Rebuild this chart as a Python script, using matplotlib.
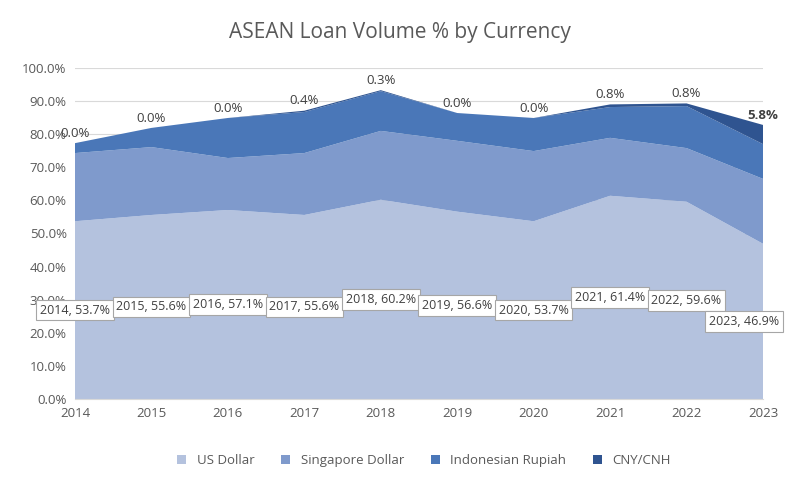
import matplotlib
matplotlib.use("Agg")
import matplotlib.pyplot as plt
from matplotlib.ticker import PercentFormatter

years = [2014, 2015, 2016, 2017, 2018, 2019, 2020, 2021, 2022, 2023]
usd = [53.7, 55.6, 57.1, 55.6, 60.2, 56.6, 53.7, 61.4, 59.6, 46.9]
sgd = [20.6, 20.5, 15.7, 18.7, 20.8, 21.4, 21.2, 17.5, 16.2, 19.6]
idr = [3.0, 5.8, 12.1, 12.4, 12.0, 8.4, 10.0, 9.3, 12.7, 10.5]
cny = [0.0, 0.0, 0.0, 0.4, 0.3, 0.0, 0.0, 0.8, 0.8, 5.8]
series_names = ["US Dollar", "Singapore Dollar", "Indonesian Rupiah", "CNY/CNH"]
colors = ["#b4c2de", "#7f9acc", "#4a77b8", "#2f5490"]

plt.rcParams["font.family"] = "Open Sans"
fig = plt.figure(figsize=(8, 4.84), dpi=100)
ax = fig.add_axes([75/800, 1-399/484, (763-75)/800, (399-68)/484])
ax.stackplot(years, usd, sgd, idr, cny, colors=colors, labels=series_names, zorder=2)
ax.set_xlim(2014, 2023)
ax.set_ylim(0, 100)
ax.set_yticks(range(0, 101, 10))
ax.yaxis.set_major_formatter(PercentFormatter(decimals=1))
ax.set_xticks(years)
for s in ax.spines.values():
    s.set_visible(False)
ax.spines["bottom"].set_visible(True)
ax.spines["bottom"].set_color("#d9d9d9")
ax.tick_params(length=0, labelsize=9.5, colors="#595959", pad=6)
ax.grid(axis="y", color="#d9d9d9", lw=0.8, zorder=0)

for i, y in enumerate(years):
    xpos = y - 0.25 if y == 2023 else y
    ax.text(xpos, usd[i]/2, f"{y}, {usd[i]}%", ha="center", va="center", fontsize=9,
            color="#404040", zorder=5,
            bbox=dict(boxstyle="square,pad=0.3", fc="white", ec="#a6a6a6", lw=0.8))
    top = usd[i] + sgd[i] + idr[i] + cny[i]
    ax.text(y, top + 1.0, f"{cny[i]}%", ha="center", va="bottom", fontsize=9.5,
            color="#404040", zorder=5, fontweight="bold" if y == 2023 else "normal")

fig.suptitle("ASEAN Loan Volume % by Currency", y=0.955, fontsize=15, color="#595959")
fig.legend(loc="lower center", bbox_to_anchor=(0.53, 0.01), ncol=4, frameon=False,
           fontsize=9.5, labelcolor="#595959", handlelength=0.7, handleheight=0.7)
fig.savefig("out.png")
